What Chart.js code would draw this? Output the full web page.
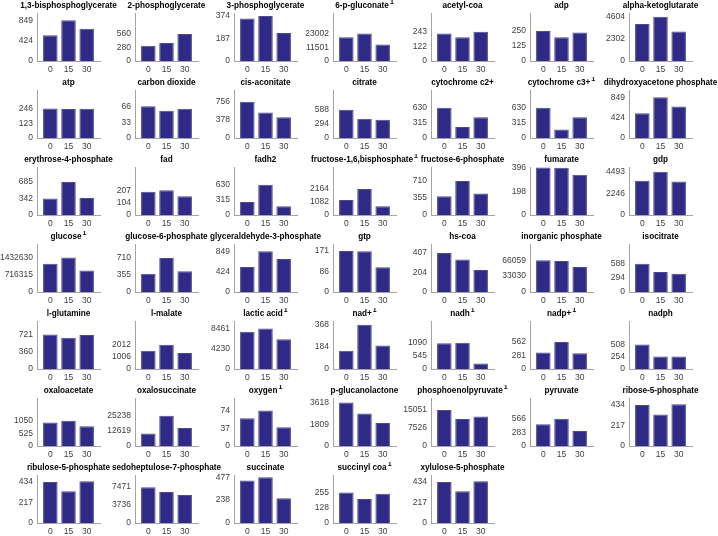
<!DOCTYPE html>
<html>
<head>
<meta charset="utf-8">
<script src="https://cdn.jsdelivr.net/npm/chart.js@4.4.0/dist/chart.umd.min.js"></script>
<style>
  body { margin: 0; background: #fff; }
  #grid { position: relative; width: 718px; height: 536px; overflow: hidden; }
  #grid canvas { position: absolute; }
</style>
</head>
<body>
<div id="grid"></div>
<script>
// Data
const times = [0, 15, 30]
const titles = [
    '1,3-bisphosphoglycerate', '2-phosphoglycerate', '3-phosphoglycerate', '6-p-gluconate¹',
    'acetyl-coa', 'adp', 'alpha-ketoglutarate',
    'atp', 'carbon dioxide', 'cis-aconitate', 'citrate',
    'cytochrome c2+', 'cytochrome c3+¹', 'dihydroxyacetone phosphate',
    'erythrose-4-phosphate', 'fad', 'fadh2', 'fructose-1,6,bisphosphate¹',
    'fructose-6-phosphate', 'fumarate', 'gdp',
    'glucose¹', 'glucose-6-phosphate', 'glyceraldehyde-3-phosphate', 'gtp',
    'hs-coa', 'inorganic phosphate', 'isocitrate',
    'l-glutamine', 'l-malate', 'lactic acid¹', 'nad+¹',
    'nadh¹', 'nadp+¹', 'nadph',
    'oxaloacetate', 'oxalosuccinate', 'oxygen¹', 'p-glucanolactone',
    'phosphoenolpyruvate¹', 'pyruvate', 'ribose-5-phosphate',
    'ribulose-5-phosphate', 'sedoheptulose-7-phosphate', 'succinate', 'succinyl coa¹',
    'xylulose-5-phosphate'
]
const values = [
    [535, 849, 670], [320, 375, 560], [355, 374, 233], [19700, 23002, 13800],
    [230, 197, 243], [250, 197, 237], [3850, 4604, 3070],
    [246, 241, 243], [66, 57, 61], [756, 530, 430], [588, 400, 380],
    [630, 231, 434], [630, 175, 430], [518, 849, 656],
    [342, 685, 355], [193, 207, 156], [271, 630, 183], [1240, 2164, 720],
    [390, 710, 447], [396, 394, 335], [3560, 4493, 3490],
    [1177000, 1432630, 894000], [379, 710, 434], [520, 849, 690], [171, 170, 103],
    [407, 338, 228], [66059, 64800, 52000], [588, 415, 380],
    [721, 650, 710], [1530, 2012, 1340], [7770, 8461, 6190], [153, 368, 196],
    [1070, 1090, 230], [343, 562, 329], [508, 258, 262],
    [975, 1050, 820], [10500, 25238, 15100], [58, 74, 39], [3618, 2700, 1920],
    [15051, 11300, 12300], [453, 566, 311], [428, 329, 434],
    [428, 330, 434], [7471, 6440, 5830], [443, 477, 257], [255, 200, 243],
    [428, 330, 434]
]
// y tick labels (0, middle, top) as printed
const yTicks = [
    [0, 424, 849], [0, 280, 560], [0, 187, 374], [0, 11501, 23002],
    [0, 122, 243], [0, 125, 250], [0, 2302, 4604],
    [0, 123, 246], [0, 33, 66], [0, 378, 756], [0, 294, 588],
    [0, 315, 630], [0, 315, 630], [0, 424, 849],
    [0, 342, 685], [0, 104, 207], [0, 315, 630], [0, 1082, 2164],
    [0, 355, 710], [0, 198, 396], [0, 2246, 4493],
    [0, 716315, 1432630], [0, 355, 710], [0, 424, 849], [0, 86, 171],
    [0, 204, 407], [0, 33030, 66059], [0, 294, 588],
    [0, 360, 721], [0, 1006, 2012], [0, 4230, 8461], [0, 184, 368],
    [0, 545, 1090], [0, 281, 562], [0, 254, 508],
    [0, 525, 1050], [0, 12619, 25238], [0, 37, 74], [0, 1809, 3618],
    [0, 7526, 15051], [0, 283, 566], [0, 217, 434],
    [0, 217, 434], [0, 3736, 7471], [0, 238, 477], [0, 128, 255],
    [0, 217, 434]
]
const yMax = [
    1000, 1000, 400, 40000, 400, 400, 5000,
    400, 100, 1000, 1000, 1000, 1000, 1000,
    1000, 400, 1000, 4000, 1000, 400, 5000,
    2000000, 1000, 1000, 200, 500, 100000, 1000,
    1000, 4000, 10000, 400, 2000, 1000, 1000,
    2000, 40000, 100, 4000, 20000, 1000, 500,
    500, 10000, 500, 400, 500
]

// Style
const fontFamily = '"Liberation Sans", Arial, Helvetica, sans-serif'
const barColor = '#2f2a85'
const barEdge = '#4d4994'
const axisColor = '#a3a3a8'
const tickColor = '#404040'
const NCOLS = 7
const colStep = 98.7
const rowStep = 77
const yAxisWidth = 40

// Title drawn centred over the plot area, with a raised "1" for footnoted names
const panelTitle = {
    id: 'panelTitle',
    afterDraw(chart, args, opts) {
        const { ctx, chartArea } = chart
        const cx = (chartArea.left + chartArea.right) / 2
        const y = chartArea.top - 7
        let text = opts.text
        let sup = ''
        if (text.endsWith('¹')) {
            text = text.slice(0, -1)
            sup = '1'
        }
        ctx.save()
        ctx.fillStyle = '#000'
        ctx.textBaseline = 'middle'
        ctx.textAlign = 'left'
        ctx.font = `bold 7px ${fontFamily}`
        const ws = sup ? ctx.measureText(sup).width + 1 : 0
        ctx.font = `bold 8.2px ${fontFamily}`
        const w = ctx.measureText(text).width
        const x0 = cx - (w + ws) / 2
        ctx.fillText(text, x0, y)
        if (sup) {
            ctx.font = `bold 7px ${fontFamily}`
            ctx.fillText(sup, x0 + w + 1, y - 4)
        }
        ctx.restore()
    }
}

const grid = document.getElementById('grid')

titles.forEach((title, i) => {
    const row = Math.floor(i / NCOLS)
    const col = i % NCOLS
    let canvas = document.createElement('canvas')
    canvas.width = 143
    canvas.height = 77
    canvas.style.left = Math.round(-3.5 + col * colStep) + 'px'
    canvas.style.top = Math.round(row * rowStep) + 'px'
    grid.appendChild(canvas)

    new Chart(canvas, {
        type: 'bar',
        plugins: [panelTitle],
        data: {
            datasets: [{
                data: times.map((t, k) => ({ x: t, y: values[i][k] })),
                backgroundColor: barColor,
                borderColor: barEdge,
                borderWidth: 1,
                barPercentage: 0.8,
                categoryPercentage: 1
            }]
        },
        options: {
            responsive: false,
            animation: false,
            devicePixelRatio: 1,
            layout: { padding: { left: 0, right: 40, top: 13, bottom: 0 } },
            plugins: {
                legend: { display: false },
                tooltip: { enabled: false },
                title: { display: false },
                panelTitle: { text: title }
            },
            scales: {
                x: {
                    type: 'linear',
                    offset: false,
                    min: -11,
                    max: 41,
                    grid: { display: false, drawTicks: false },
                    border: { display: true, color: axisColor, width: 1 },
                    afterBuildTicks: (s) => { s.ticks = times.map(v => ({ value: v })) },
                    afterFit: (s) => { s.height = 16 },
                    ticks: {
                        padding: 4,
                        color: tickColor,
                        maxRotation: 0,
                        autoSkip: false,
                        font: { family: fontFamily, size: 8.5 },
                        callback: (v) => String(v)
                    }
                },
                y: {
                    min: 0,
                    max: yMax[i],
                    grid: { display: false, drawTicks: false },
                    border: { display: true, color: axisColor, width: 1 },
                    afterBuildTicks: (s) => { s.ticks = yTicks[i].map(v => ({ value: v })) },
                    afterFit: (s) => { s.width = yAxisWidth },
                    ticks: {
                        padding: 4,
                        color: tickColor,
                        font: { family: fontFamily, size: 8.5 },
                        callback: (v) => String(v)
                    }
                }
            }
        }
    })
})
</script>
</body>
</html>
